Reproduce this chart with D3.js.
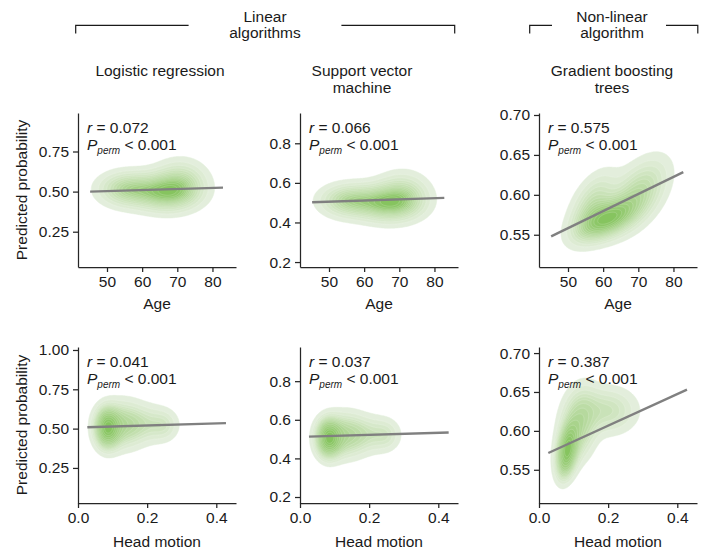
<!DOCTYPE html>
<html><head><meta charset="utf-8">
<script src="https://cdn.jsdelivr.net/npm/d3@7"></script>
<style>
body{margin:0;background:#fff}
svg{display:block}
text{font-family:"Liberation Sans",Arial,Helvetica,sans-serif;fill:#1a1a1a}
</style>
</head><body><svg id="c" width="706" height="552"></svg>
<script>
// ---------------- data ----------------
const titleLines = [["Logistic regression"], ["Support vector", "machine"], ["Gradient boosting", "trees"]];
const groupLabels = [["Linear", "algorithms"], ["Non-linear", "algorithm"]];
const predictors = ["Age", "Head motion"];
const yLabel = "Predicted probability";
const rValues = [[0.072, 0.066, 0.575], [0.041, 0.037, 0.387]];
const pText = "< 0.001";
const ageTicks = [50, 60, 70, 80];
const motionTicks = [0.0, 0.2, 0.4];
const yTicksLR = [0.25, 0.50, 0.75];
const yTicksLRMotion = [0.25, 0.50, 0.75, 1.00];
const yTicksSVM = [0.2, 0.4, 0.6, 0.8];
const yTicksGBT = [0.55, 0.60, 0.65, 0.70];
const ageDomain = [41.75, 86.7];
const motionDomain = [0, 0.457];
const yDomains = [[[0.03, 0.99], [0.175, 0.953], [0.5096, 0.7025]],
                  [[0.027, 1.019], [0.169, 0.977], [0.5073, 0.7078]]];
// regression fit lines: [x0, y0, x1, y1]
const fitAge = [[45.2, 0.500, 83.0, 0.525], [45.2, 0.502, 82.8, 0.524], [45.2, 0.548, 82.8, 0.6285]];
const fitMotion = [[0.027, 0.509, 0.428, 0.535], [0.026, 0.513, 0.430, 0.534], [0.027, 0.5716, 0.428, 0.653]];
// density estimate components: [meanX, meanY, sdX, sdY, rho, weight]
const kdeAgeLR = [[67, 0.495, 5.5, 0.07, 0, 0.5], [56, 0.515, 5, 0.065, 0, 0.3], [71, 0.57, 4.5, 0.08, 0, 0.2]];
const kdeAgeSVM = [[67, 0.497, 5.5, 0.055, 0, 0.5], [56, 0.51, 5, 0.05, 0, 0.3], [71, 0.55, 4.5, 0.065, 0, 0.2]];
const kdeAgeGBT = [[61, 0.569, 5, 0.016, 0.5, 0.45], [70, 0.601, 5, 0.026, 0.5, 0.35], [57, 0.588, 4, 0.024, 0.5, 0.2]];
const kdeMotionLR = [[0.085, 0.505, 0.022, 0.075, 0, 0.45], [0.13, 0.525, 0.038, 0.09, 0, 0.33], [0.2, 0.53, 0.045, 0.075, 0, 0.17], [0.25, 0.52, 0.025, 0.06, 0, 0.05]];
const kdeMotionSVM = [[0.083, 0.505, 0.022, 0.058, 0, 0.45], [0.13, 0.52, 0.038, 0.07, 0, 0.33], [0.2, 0.525, 0.045, 0.06, 0, 0.17], [0.25, 0.52, 0.025, 0.05, 0, 0.05]];
const kdeMotionGBT = [[0.082, 0.575, 0.018, 0.019, 0.3, 0.42], [0.115, 0.609, 0.032, 0.027, 0.2, 0.36], [0.2, 0.626, 0.05, 0.018, 0, 0.22]];

// ---------------- layout ----------------
const svg = d3.select("#c");
const FS = 15.5;
const colLeft = [78, 300, 539];
const panelW = 158;
const rowTop = [113, 347], rowBottom = [267, 503];
const yTickSets = [[yTicksLR, yTicksSVM, yTicksGBT], [yTicksLRMotion, yTicksSVM, yTicksGBT]];
const yFormats = [d3.format(".2f"), d3.format(".1f"), d3.format(".2f")];
const kdes = [[kdeAgeLR, kdeAgeSVM, kdeAgeGBT], [kdeMotionLR, kdeMotionSVM, kdeMotionGBT]];
const fits = [fitAge, fitMotion];
const NLEV = 15;
const bandColor = d3.interpolateLab("#e3eedc", "#86c45f");

function density(comps, x, y) {
  let s = 0;
  for (const [mx, my, sx, sy, r, w] of comps) {
    const dx = (x - mx) / sx, dy = (y - my) / sy;
    const q = (dx * dx - 2 * r * dx * dy + dy * dy) / (1 - r * r);
    s += w * Math.exp(-0.5 * q) / (2 * Math.PI * sx * sy * Math.sqrt(1 - r * r));
  }
  return s;
}

// group labels + brackets
const gl = svg.append("g").attr("stroke", "#1a1a1a").attr("stroke-width", 1.2).attr("fill", "none");
gl.append("path").attr("d", "M75.7,33.5V25.3H188.6");
gl.append("path").attr("d", "M341.4,25.3H454.7V33.5");
gl.append("path").attr("d", "M529.7,33.5V25.3H552");
gl.append("path").attr("d", "M666,25.3H697.8V33.5");
const glx = [265, 612];
groupLabels.forEach((lines, i) => {
  lines.forEach((t, k) => svg.append("text").attr("x", glx[i]).attr("y", 22 + k * 15.5)
    .attr("text-anchor", "middle").attr("font-size", FS).text(t));
});
const titleX = [160, 362, 612];
titleLines.forEach((lines, i) => {
  lines.forEach((t, k) => svg.append("text").attr("x", titleX[i]).attr("y", 76 + k * 16.5)
    .attr("text-anchor", "middle").attr("font-size", FS).text(t));
});

for (let row = 0; row < 2; row++) {
  for (let col = 0; col < 3; col++) {
    const L = colLeft[col], T = rowTop[row], B = rowBottom[row];
    const x = d3.scaleLinear().domain(row === 0 ? ageDomain : motionDomain).range([L, L + panelW]);
    const y = d3.scaleLinear().domain(yDomains[row][col]).range([B, T]);
    const g = svg.append("g");

    // density grid
    const nx = 150, ny = 150;
    const [x0, x1] = x.domain(), [y0, y1] = y.domain();
    const dxs = (x1 - x0) / (nx - 1), dys = (y1 - y0) / (ny - 1);
    const vals = new Float64Array(nx * ny);
    for (let j = 0; j < ny; j++) {
      const yv = y1 - j * dys;
      for (let i = 0; i < nx; i++) vals[i + j * nx] = density(kdes[row][col], x0 + i * dxs, yv);
    }
    const sorted = Array.from(vals).sort((a, b) => a - b);
    const total = d3.sum(sorted);
    const cum = []; let acc = 0;
    for (const v of sorted) { acc += v; cum.push(acc / total); }
    const levels = d3.range(NLEV).map(k => {
      const p = 0.05 + k * 0.95 / NLEV;
      const idx = d3.bisectLeft(cum, p);
      return sorted[Math.min(idx, sorted.length - 1)];
    });
    const contours = d3.contours().size([nx, ny]).thresholds(levels)(vals);
    const path = d3.geoPath();
    contours.forEach((c, k) => {
      const geom = {type: "MultiPolygon", coordinates: c.coordinates.map(poly => poly.map(ring => ring.map(([cx, cy]) =>
        [x(x0 + (cx - 0.5) * dxs), y(y1 - (cy - 0.5) * dys)])))};
      const col0 = bandColor(k / (NLEV - 1));
      g.append("path").attr("d", path(geom)).attr("fill", col0)
        .attr("stroke", k === 0 ? col0 : d3.interpolateRgb(col0, "#ffffff")(0.35)).attr("stroke-width", 0.5);
    });

    // regression line
    const f = fits[row][col];
    g.append("line").attr("x1", x(f[0])).attr("y1", y(f[1])).attr("x2", x(f[2])).attr("y2", y(f[3]))
      .attr("stroke", "#808080").attr("stroke-width", 2.4);

    // axes
    const xa = d3.axisBottom(x).tickValues(row === 0 ? ageTicks : motionTicks)
      .tickFormat(row === 0 ? d3.format("d") : d3.format(".1f")).tickSize(5).tickPadding(4).tickSizeOuter(0);
    const ya = d3.axisLeft(y).tickValues(yTickSets[row][col]).tickFormat(yFormats[col]).tickSize(5).tickPadding(4).tickSizeOuter(0);
    [svg.append("g").attr("transform", `translate(0,${B})`).call(xa),
     svg.append("g").attr("transform", `translate(${L},0)`).call(ya)].forEach(a => {
      a.selectAll("path.domain,line").attr("stroke", "#262626").attr("stroke-width", 1.25);
      a.selectAll("text").attr("font-size", FS).attr("font-family", null).attr("fill", "#1a1a1a");
    });

    // axis labels
    svg.append("text").attr("x", L + panelW / 2).attr("y", row === 0 ? 309 : 547)
      .attr("text-anchor", "middle").attr("font-size", FS).text(predictors[row]);
    if (col === 0) {
      svg.append("text").attr("transform", `translate(27,${(T + B) / 2}) rotate(-90)`)
        .attr("text-anchor", "middle").attr("font-size", FS).text(yLabel);
    }

    // annotation
    const t1 = svg.append("text").attr("x", L + 9).attr("y", T + 19.5).attr("font-size", FS);
    t1.append("tspan").attr("font-style", "italic").text("r");
    t1.append("tspan").text(" = " + d3.format(".3f")(rValues[row][col]));
    const t2 = svg.append("text").attr("x", L + 9).attr("y", T + 36.5).attr("font-size", FS);
    t2.append("tspan").attr("font-style", "italic").text("P");
    t2.append("tspan").attr("font-style", "italic").attr("font-size", 10).attr("dy", 4.5).text("perm");
    t2.append("tspan").attr("dy", -4.5).text(" " + pText);
  }
}
</script>
</body></html>
